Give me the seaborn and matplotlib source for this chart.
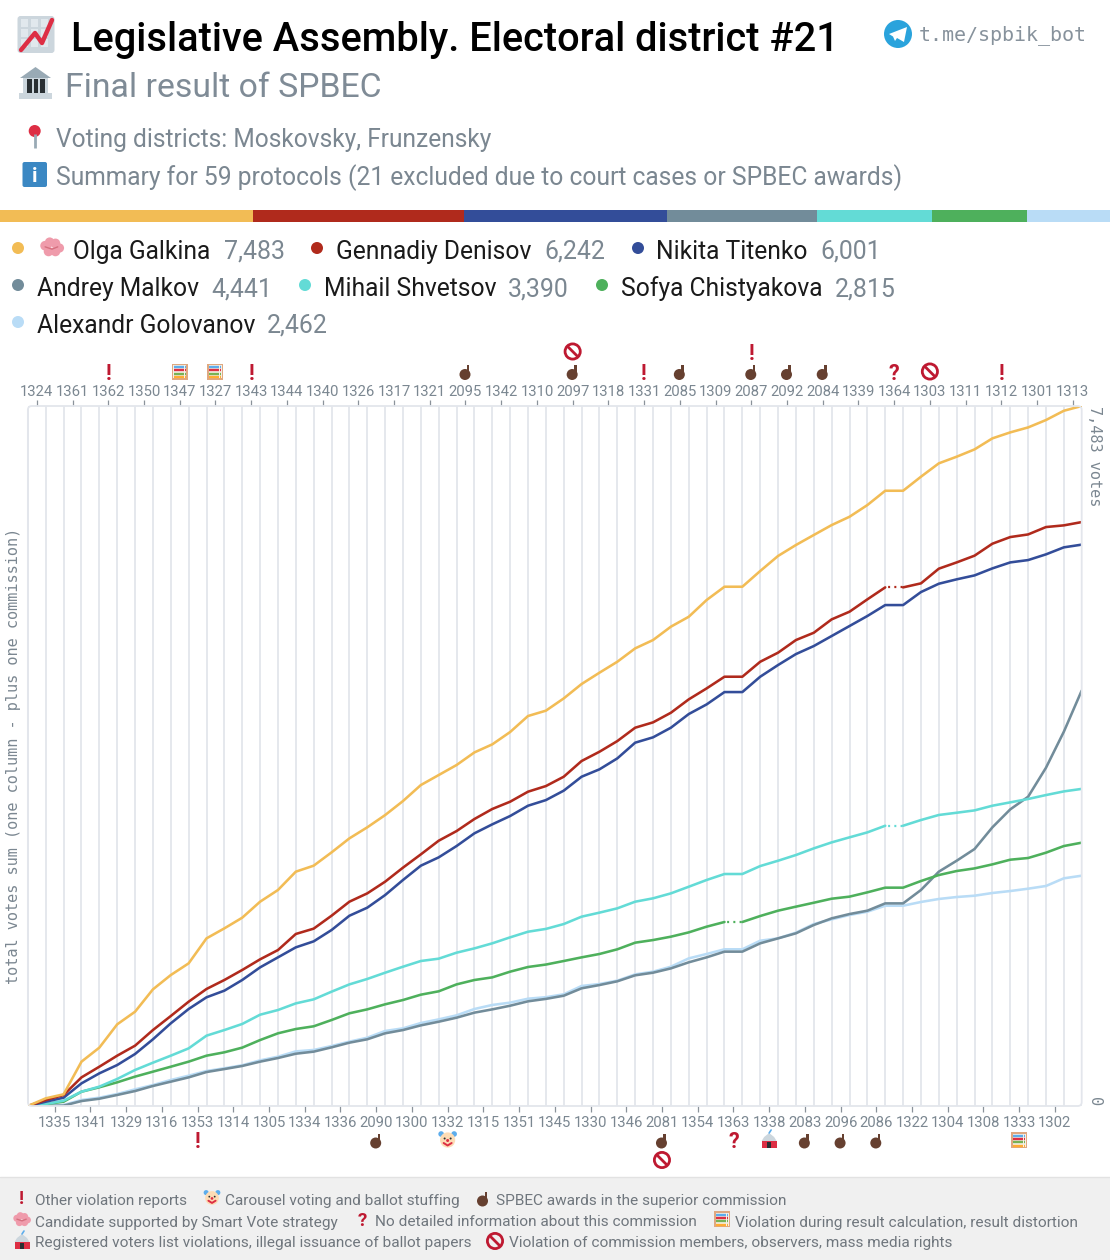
import matplotlib
matplotlib.use('Agg')
import matplotlib.pyplot as plt
from matplotlib.patches import Circle, FancyBboxPatch, Polygon, Rectangle
import numpy as np
import pandas as pd
import seaborn as sns

NAMES = ['Olga Galkina', 'Gennadiy Denisov', 'Nikita Titenko', 'Andrey Malkov',
	'Mihail Shvetsov', 'Sofya Chistyakova', 'Alexandr Golovanov']
TOTALS = [7483, 6242, 6001, 4441, 3390, 2815, 2462]

COMMISSIONS = [1324, 1335, 1361, 1341, 1362, 1329, 1350, 1316, 1347, 1353, 1327, 1314, 1343, 1305, 1344,
	1334, 1340, 1336, 1326, 2090, 1317, 1300, 1321, 1332, 2095, 1315, 1342, 1351, 1310, 1345,
	2097, 1330, 1318, 1346, 1331, 2081, 2085, 1354, 1309, 1363, 2087, 1338, 2092, 2083, 2084,
	2096, 1339, 2086, 1364, 1322, 1303, 1304, 1311, 1308, 1312, 1333, 1301, 1302, 1313]

# running sums, first value is the empty start of the chart
GALKINA = [0, 82, 125, 474, 624, 873, 1008, 1247, 1400, 1525, 1792, 1899, 2013, 2184, 2309,
	2505, 2569, 2711, 2861, 2979, 3110, 3260, 3431, 3538, 3645, 3780, 3866, 3998, 4169,
	4226, 4357, 4511, 4632, 4749, 4892, 4981, 5124, 5230, 5409, 5551, 5551,
	5719, 5880, 5997,
	6104, 6210, 6299, 6424, 6577, 6577, 6727, 6870, 6941, 7019, 7137, 7201, 7254, 7333, 7432, 7483]
DENISOV = [0, 64, 118, 306, 420, 538, 645, 812, 962, 1115, 1251, 1347, 1454, 1568, 1667,
	1839, 1896, 2034, 2184, 2273, 2398, 2548, 2690, 2836, 2939, 3068, 3175, 3253, 3360,
	3420, 3520, 3688, 3787, 3901, 4044, 4101, 4204, 4347, 4464, 4589, 4589, 4749, 4846, 4981, 5059,
	5202, 5284, 5416, 5544, 5544, 5587, 5744, 5811, 5883, 6011, 6082, 6110, 6189, 6207, 6242]
TITENKO = [0, 46, 89, 242, 349, 438, 556, 713, 884, 1037, 1162, 1233, 1347, 1482, 1589,
	1696, 1760, 1881, 2034, 2120, 2255, 2416, 2569, 2658, 2779, 2915, 3011, 3100, 3210,
	3270, 3371, 3520, 3599, 3716, 3884, 3941, 4044, 4190, 4293, 4425, 4425, 4589, 4714, 4831, 4917,
	5024, 5131, 5238, 5355, 5355, 5494, 5583, 5630, 5672, 5747, 5811, 5836, 5897, 5972, 6001]
MALKOV = [0, 0, 4, 53, 78, 118, 160, 214, 260, 306, 363, 395, 428, 474, 513,
	559, 581, 627, 677, 713, 777, 812, 862, 901, 944, 998, 1033, 1072, 1119,
	1145, 1179, 1258, 1293, 1333, 1397, 1425, 1471, 1536, 1589, 1650, 1650, 1739, 1792, 1846,
	1935, 2006, 2052, 2088, 2166, 2166, 2309, 2505, 2622, 2747, 2979, 3171, 3306, 3616, 4001, 4441]
SHVETSOV = [0, 21, 57, 153, 207, 289, 385, 463, 538, 616, 752, 812, 877, 976, 1026,
	1097, 1140, 1222, 1300, 1358, 1425, 1489, 1550, 1575, 1639, 1685, 1739, 1803, 1863,
	1893, 1945, 2024, 2067, 2113, 2184, 2220, 2273, 2344, 2416, 2480, 2480, 2565, 2622, 2683,
	2754, 2818, 2872, 2925, 2996, 2996, 3057, 3111, 3135, 3160, 3210, 3246, 3282, 3324, 3363, 3390]
CHISTYAKOVA = [0, 21, 46, 153, 200, 253, 314, 367, 420, 474, 538, 574, 624, 705, 777,
	823, 852, 919, 991, 1033, 1087, 1133, 1190, 1226, 1300, 1347, 1375, 1436, 1486,
	1512, 1550, 1589, 1625, 1675, 1746, 1774, 1810, 1856, 1917, 1967, 1967, 2031, 2088, 2131,
	2173, 2216, 2238, 2284, 2334, 2334, 2405, 2469, 2512, 2540, 2583, 2633, 2651, 2708, 2779, 2815]
GOLOVANOV = [0, 4, 11, 64, 89, 128, 178, 224, 278, 324, 374, 403, 435, 488, 527,
	584, 599, 641, 688, 730, 802, 830, 887, 926, 969, 1037, 1080, 1105, 1147,
	1163, 1194, 1283, 1304, 1340, 1407, 1436, 1489, 1578, 1625, 1675, 1675, 1767, 1792, 1853,
	1945, 1995, 2042, 2077, 2141, 2141, 2181, 2213, 2234, 2248, 2277, 2298, 2323, 2352, 2434, 2462]
SERIES = [GALKINA, DENISOV, TITENKO, MALKOV, SHVETSOV, CHISTYAKOVA, GOLOVANOV]

# columns where a line is dotted
DOTTED = {'Gennadiy Denisov': 1364, 'Mihail Shvetsov': 1364, 'Sofya Chistyakova': 1363}

# markers next to the commission numbers, near axis first
MARKS = {1362: ['!'], 1347: ['abacus'], 1327: ['abacus'], 1343: ['!'], 2095: ['hand'],
	2097: ['hand', 'ban'], 1331: ['!'], 2085: ['hand'], 2087: ['hand', '!'], 2092: ['hand'],
	2084: ['hand'], 1364: ['?'], 1303: ['ban'], 1312: ['!'], 1353: ['!'], 2090: ['hand'],
	1332: ['clown'], 2081: ['hand', 'ban'], 1363: ['?'], 1338: ['tent'], 2083: ['hand'],
	2096: ['hand'], 2086: ['hand'], 1333: ['abacus']}

COLORS = ['#f2bc55', '#b02a1c', '#334d99', '#728c9a', '#63dbd6', '#4eb05c', '#b9dcf6']
GRAY = '#7b8791'
RED = '#be1931'
GRID = '#e3e6ec'
W, H = 1110, 1260
LEFT, RIGHT, TOP, BOTTOM = 27.9, 1081.7, 406, 1106

sns.set_theme(style='white')
plt.rcParams['font.family'] = ['Roboto', 'DejaVu Sans']

fig = plt.figure(figsize=(W / 100, H / 100), dpi=100)

# stripe under the header, widths are the vote totals
bar = fig.add_axes([0, 1 - 222 / H, 1, 12 / H])
bar.barh([0], TOTALS, left=np.cumsum([0] + TOTALS[:-1]), height=1, color=COLORS, edgecolor='none', linewidth=0)
bar.set_xlim(0, sum(TOTALS))
bar.set_ylim(-0.5, 0.5)
bar.axis('off')

ax = fig.add_axes([LEFT / W, 1 - BOTTOM / H, (RIGHT - LEFT) / W, (BOTTOM - TOP) / H])
n = len(COMMISSIONS)
solid = []
dots = []
for name, values in zip(NAMES, SERIES):
	gap = COMMISSIONS.index(DOTTED[name]) if name in DOTTED else None
	for k, v in enumerate(values):
		seg = 1 if gap is not None and k > gap else 0
		solid.append((name, name + str(seg), k, v))
		if gap is not None and k in (gap, gap + 1):
			dots.append((name, k, v))
df = pd.DataFrame(solid, columns=['name', 'seg', 'k', 'votes'])
dots = pd.DataFrame(dots, columns=['name', 'k', 'votes'])
palette = dict(zip(NAMES, COLORS))

# light blue goes under the gray one
order = NAMES[::-1]
order.remove('Andrey Malkov')
order.insert(1, 'Andrey Malkov')
for name in order:
	sns.lineplot(data=df[df['name'] == name], x='k', y='votes', units='seg', estimator=None,
		color=palette[name], lw=1.85, legend=False, ax=ax, zorder=3, sort=False)
for name, sub in dots.groupby('name'):
	sns.lineplot(data=sub, x='k', y='votes', color=palette[name], lw=1.6, legend=False, ax=ax,
		zorder=3, linestyle=(1.4, (0.9, 1.9)))

ax.set_xlim(0, n)
ax.set_ylim(0, TOTALS[0])
ax.set_xticks(np.arange(n + 1), minor=True)
ax.grid(True, which='minor', axis='x', color=GRID, lw=1.3)
ax.grid(False, which='major')
ax.set_xticks(np.arange(0, n, 2) + 0.5)
ax.set_xticklabels(COMMISSIONS[0::2])
ax.tick_params(axis='x', which='minor', length=0)
ax.tick_params(axis='x', which='major', top=True, labeltop=True, bottom=False, labelbottom=False,
	length=4.3, width=0.9, color='#8a929a', labelcolor=GRAY, labelsize=10.7, pad=0.6)
low = ax.secondary_xaxis('bottom')
low.set_xticks(np.arange(1, n, 2) + 0.5)
low.set_xticklabels(COMMISSIONS[1::2])
low.tick_params(axis='x', length=4.3, width=0.9, color='#8a929a', labelcolor=GRAY, labelsize=10.7, pad=2.7)
low.spines['bottom'].set_visible(False)

ax.yaxis.tick_right()
ax.set_yticks([0, TOTALS[0]])
ax.set_yticklabels(['0', '{:,} votes'.format(TOTALS[0])], family='DejaVu Sans Mono', rotation=270)
ax.get_yticklabels()[0].set_va('bottom')
ax.get_yticklabels()[1].set_va('top')
ax.tick_params(axis='y', length=0, labelcolor=GRAY, labelsize=11, pad=3.6)
ax.set_xlabel('')
ax.yaxis.set_label_position('left')
ax.set_ylabel('total votes sum (one column - plus one commission)', family='DejaVu Sans Mono',
	fontsize=11, color=GRAY)
ax.yaxis.set_label_coords(-0.0068, 0.5)
for s in ax.spines.values():
	s.set_visible(False)

# everything else is placed in pixels on a sheet over the whole figure
ov = fig.add_axes([0, 0, 1, 1], zorder=5)
ov.set_xlim(0, W)
ov.set_ylim(H, 0)
ov.axis('off')
ov.add_patch(FancyBboxPatch((LEFT, TOP), RIGHT - LEFT, BOTTOM - TOP, boxstyle='round,pad=0,rounding_size=4',
	fc='none', ec=GRID, lw=1.3))

def put(x, y, s, size, color=GRAY, **kw):
	return ov.text(x, y, s, fontsize=size, color=color, va='baseline', ha=kw.pop('ha', 'left'), **kw)

def circle(x, y, r, color, **kw):
	ov.add_patch(Circle((x, y), r, fc=color, ec='none', **kw))

def hand(x, y):
	circle(x - 0.5, y + 3, 5.5, '#664030')
	ov.add_patch(Rectangle((x + 1.5, y - 6.5), 2.4, 9, fc='#664030', ec='none'))

def ban(x, y, r=7.6):
	ov.add_patch(Circle((x, y), r, fc='none', ec=RED, lw=2))
	d = r * 0.7
	ov.plot([x - d, x + d], [y - d, y + d], color=RED, lw=2, solid_capstyle='butt')

def abacus(x, y, s=8):
	ov.add_patch(Rectangle((x - s, y - s), 2 * s, 2 * s, fc='#dfa880', ec='none'))
	ov.add_patch(Rectangle((x - s + 1.5, y - s + 1.5), 2 * s - 3, 2 * s - 3, fc='#f5f0e6', ec='none'))
	for i, c in enumerate(['#5dadec', '#dd2e44', '#77b255', '#ffac33']):
		yy = y - s + 3.5 + i * (2 * s - 6) / 3
		ov.plot([x - s + 2, x + s - 4], [yy, yy], color=c, lw=1.7, solid_capstyle='butt')
		ov.plot([x + s - 3, x + s - 2], [yy, yy], color=c, lw=1.7, solid_capstyle='butt')

def clown(x, y, r=1.0):
	circle(x - 6.5 * r, y - 6 * r, 2.8 * r, '#5dadec')
	circle(x + 6.5 * r, y - 6 * r, 2.8 * r, '#5dadec')
	circle(x, y, 7.6 * r, '#fddcb5')
	circle(x - 3 * r, y - 1.5 * r, 1 * r, '#292f33')
	circle(x + 3 * r, y - 1.5 * r, 1 * r, '#292f33')
	circle(x, y + 0.5 * r, 1.5 * r, '#dd2e44')
	ov.plot([x - 4 * r, x, x + 4 * r], [y + 3 * r, y + 5.5 * r, y + 3 * r], color='#dd2e44', lw=1.4)

def tent(x, y):
	ov.add_patch(Rectangle((x - 7.5, y + 1), 15, 7, fc='#dd2e44', ec='none'))
	ov.add_patch(Polygon([(x - 7.5, y + 1), (x - 5, y - 3), (x, y - 7), (x + 5, y - 3), (x + 7.5, y + 1)],
		fc='#ccd6dd', ec='none'))
	ov.add_patch(Rectangle((x - 2, y + 2), 4, 6, fc='#292f33', ec='none'))
	ov.plot([x, x + 2], [y - 7, y - 10], color='#5dadec', lw=1.2)

def brain(x, y, r=1.0):
	for dx, dy, q in [(-6, -2, 4.2), (-2, -5, 4.2), (3, -4, 4.2), (6.5, 0, 4), (3, 3, 4.2), (-3, 3, 4.2)]:
		circle(x + dx * r, y + dy * r, q * r, '#ef9bab')
	ov.plot([x - 6 * r, x, x + 5 * r], [y - 1 * r, y + 1 * r, y - 1 * r], color='#d5707f', lw=1)

def bang(x, y, s='!', size=15.5):
	ov.text(x, y + 2, s, fontsize=size, color=RED, fontweight='bold', ha='center', va='center')

def mark(kind, x, y):
	if kind == 'hand':
		hand(x, y)
	elif kind == 'ban':
		ban(x, y)
	elif kind == 'abacus':
		abacus(x, y)
	elif kind == 'clown':
		clown(x, y)
	elif kind == 'tent':
		tent(x, y)
	else:
		bang(x, y, kind)

step = (RIGHT - LEFT) / n
for code, kinds in MARKS.items():
	i = COMMISSIONS.index(code)
	x = LEFT + (i + 0.5) * step
	for j, kind in enumerate(kinds):
		if i % 2 == 0:
			mark(kind, x, 371.5 - 20 * j)
		else:
			mark(kind, x, 1140 + 20 * j)

# header
ov.add_patch(FancyBboxPatch((17.5, 16), 37, 37, boxstyle='round,pad=0,rounding_size=3', fc='#ccd6dd', ec='none'))
for gx in (20.5, 30.5, 40.5):
	for gy in (19, 29, 39):
		ov.add_patch(Rectangle((gx, gy), 7.5, 7.5, fc='#e1e8ed', ec='none'))
ov.plot([21, 35, 42, 52], [50, 33, 43, 20], color='#dd2e44', lw=3.2, solid_capstyle='round', solid_joinstyle='round')
put(71, 51, 'Legislative Assembly. Electoral district #21', 28.6, 'black', fontweight='medium')

ov.add_patch(Polygon([(20, 78), (35.5, 67), (51, 78)], fc='#99aab5', ec='none'))
ov.add_patch(Rectangle((23, 78), 25, 15, fc='#ccd6dd', ec='none'))
for cx in (27, 33.5, 40):
	ov.add_patch(Rectangle((cx, 79), 4.6, 14, fc='#292f33', ec='none'))
ov.add_patch(Rectangle((19, 93), 33, 6, fc='#ccd6dd', ec='none'))
put(65, 97, 'Final result of SPBEC', 24.3, '#7f8b96')

ov.plot([35, 35], [134, 148], color='#99aab5', lw=2, solid_capstyle='butt')
circle(34.7, 131, 6, '#dd2e44')
put(56, 147, 'Voting districts: Moskovsky, Frunzensky', 17.65)
ov.add_patch(FancyBboxPatch((22.5, 162), 24.5, 25, boxstyle='round,pad=0,rounding_size=2', fc='#3b88c3', ec='none'))
ov.text(34.7, 176, 'i', fontsize=15, color='white', fontweight='bold', ha='center', va='center')
put(56, 185, 'Summary for 59 protocols (21 excluded due to court cases or SPBEC awards)', 17.7)

circle(898, 34, 14, '#2aa3dc')
ov.add_patch(Polygon([(889, 34), (907, 27), (904, 42), (897, 38), (895, 41), (893, 36.5)], fc='white', ec='none'))
put(919, 40, 't.me/spbik_bot', 14.4, '#87929c', family='DejaVu Sans Mono')

# candidates, x positions of dot / name / number
ROWS = [(259, 0, 18, 73, 224), (259, 1, 317, 336, 544), (259, 2, 638, 656, 820),
	(296, 3, 18, 37, 211), (296, 4, 305, 324, 508), (296, 5, 602, 621, 835),
	(333, 6, 18, 37, 267)]
for y, i, xd, xn, xv in ROWS:
	circle(xd, y - 11, 6, COLORS[i])
	put(xn, y, NAMES[i], 17.7, '#1a1a1a')
	put(xv, y, '{:,}'.format(TOTALS[i]), 17.9)
brain(52, 248, 1.15)

# footer
ov.add_patch(Rectangle((0, 1177), W, 83, fc='#f0f0f0', ec='none'))
ov.plot([0, W], [1177, 1177], color='#e2e2e2', lw=1)
FOOT = '#6f767d'
FS = 11.12
bang(21, 1197, '!', 13.5)
put(35, 1204.5, 'Other violation reports', FS, FOOT)
clown(212, 1198, 0.9)
put(225, 1204.5, 'Carousel voting and ballot stuffing', FS, FOOT)
hand(483, 1198)
put(496, 1204.5, 'SPBEC awards in the superior commission', FS, FOOT)
brain(22, 1220, 0.85)
put(35, 1226.5, 'Candidate supported by Smart Vote strategy', FS, FOOT)
bang(362, 1219, '?', 13.5)
put(375, 1226.5, 'No detailed information about this commission', FS, FOOT)
abacus(722, 1219)
put(735, 1226.5, 'Violation during result calculation, result distortion', FS, FOOT)
tent(22, 1241)
put(35, 1246.5, 'Registered voters list violations, illegal issuance of ballot papers', FS, FOOT)
ban(495, 1241)
put(509, 1246.5, 'Violation of commission members, observers, mass media rights', FS, FOOT)

fig.savefig('out.png', dpi=100)
